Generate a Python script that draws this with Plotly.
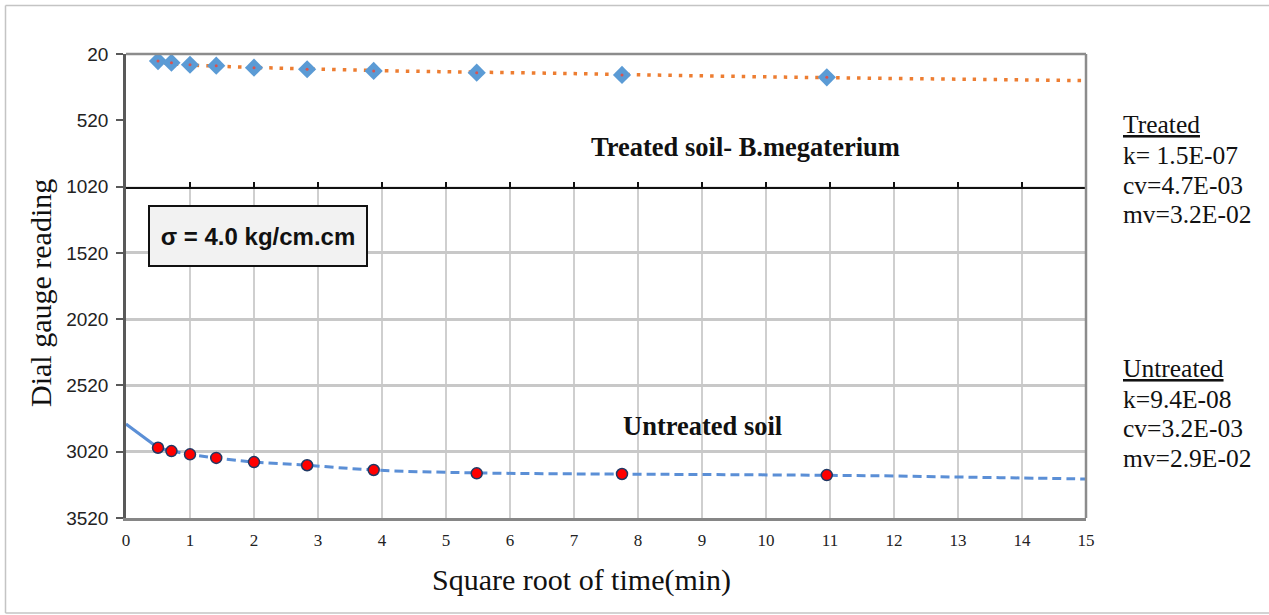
import plotly.graph_objects as go

# ---------------- data ----------------
sqrt_time = [0.5, 0.71, 1.0, 1.41, 2.0, 2.83, 3.87, 5.48, 7.75, 10.95]
treated_reading = [73, 86, 101, 108, 123, 135, 148, 161, 178, 196]
untreated_reading = [2990, 3015, 3040, 3067, 3098, 3122, 3158, 3183, 3188, 3196]

treated_trend_x = [0.6, 0.81, 1.67, 2.5, 4.23, 4.9, 6.78, 8.77, 10.53, 11.36, 13.23, 15]
treated_trend_y = [90, 98, 116, 128, 148, 153, 166, 183, 196, 201, 211, 221]

untreated_start_x = [0, 0.5]
untreated_start_y = [2811, 2990]
untreated_trend_x = [0.5, 0.71, 1.0, 1.41, 2.0, 2.83, 3.87, 5.48, 7.75, 9, 10.95, 12, 13, 14, 15]
untreated_trend_y = [2990, 3015, 3040, 3067, 3098, 3122, 3158, 3180, 3189, 3192, 3198, 3203, 3211, 3218, 3226]

y_ticks = [20, 520, 1020, 1520, 2020, 2520, 3020, 3520]
x_ticks = list(range(0, 16))

treated_params = ["k= 1.5E-07", "cv=4.7E-03", "mv=3.2E-02"]
untreated_params = ["k=9.4E-08", "cv=3.2E-03", "mv=2.9E-02"]

# ---------------- layout geometry ----------------
W, H = 1269, 615
L, R, T, B = 126, 1086, 54, 518


def px(xp):
    return (xp - L) / (R - L)


def py(yp):
    return (B - yp) / (B - T)


SERIF = "Liberation Serif"
SANS = "Liberation Sans"

fig = go.Figure()

# Untreated soil
fig.add_trace(go.Scatter(x=untreated_start_x, y=untreated_start_y, mode="lines",
                         line=dict(color="#5b8fd6", width=3), showlegend=False, hoverinfo="skip"))
fig.add_trace(go.Scatter(x=untreated_trend_x, y=untreated_trend_y, mode="lines",
                         line=dict(color="#5b8fd6", width=3, dash="9px,5px", shape="spline"),
                         showlegend=False, hoverinfo="skip"))
fig.add_trace(go.Scatter(x=sqrt_time, y=untreated_reading, mode="markers",
                         marker=dict(symbol="circle", size=11, color="#ff0000",
                                     line=dict(color="#1f3864", width=1.5)),
                         showlegend=False))

# Treated soil (upper panel axes)
fig.add_trace(go.Scatter(x=treated_trend_x, y=treated_trend_y, mode="lines", xaxis="x2", yaxis="y2",
                         line=dict(color="#ed7d31", width=3.5, dash="3.5px,7px", shape="spline"),
                         showlegend=False, hoverinfo="skip"))
fig.add_trace(go.Scatter(x=sqrt_time, y=treated_reading, mode="markers", xaxis="x2", yaxis="y2",
                         marker=dict(symbol="diamond", size=14, color="#5b9bd5",
                                     line=dict(width=0)),
                         showlegend=False))
fig.add_trace(go.Scatter(x=sqrt_time, y=treated_reading, mode="markers", xaxis="x2", yaxis="y2",
                         marker=dict(symbol="circle", size=3, color="#d9534f"),
                         showlegend=False, hoverinfo="skip"))

y2_bottom = py(T + (1020 - 20) * (B - T) / 3500)

border = dict(color="#c4c4c4", width=1.5)

fig.update_layout(
    width=W, height=H, autosize=False,
    margin=dict(l=L, r=W - R, t=T, b=H - B, pad=0),
    paper_bgcolor="white", plot_bgcolor="white",
    xaxis=dict(range=[0, 15], tickvals=x_ticks, showgrid=True, gridcolor="#cfcfcf", gridwidth=2,
               zeroline=False, showline=True, linecolor="#868686", linewidth=2.5, ticks="",
               ticklabelstandoff=5,
               tickfont=dict(family=SERIF, size=17, color="#222222")),
    yaxis=dict(range=[3520, 20], tickvals=y_ticks, showgrid=True, gridcolor="#c8c8c8", gridwidth=3,
               zeroline=False, showline=True, linecolor="#595959", linewidth=2.5,
               ticks="outside", ticklen=7, tickwidth=1.5, tickcolor="#595959",
               ticklabelstandoff=4,
               tickfont=dict(family=SANS, size=19, color="#222222")),
    xaxis2=dict(range=[0, 15], tickvals=x_ticks, overlaying="x", anchor="y2", showgrid=False,
                zeroline=False, showline=True, linecolor="#111111", linewidth=1.5,
                ticks="inside", ticklen=5, tickwidth=1.5, tickcolor="#111111",
                showticklabels=False),
    yaxis2=dict(range=[1020, 20], domain=[y2_bottom, 1], visible=False, showgrid=False,
                zeroline=False),
    shapes=[
        # plot frame (top and right sides, lighter gray)
        dict(type="line", xref="x domain", yref="y domain", x0=0, x1=1, y0=1, y1=1,
             line=dict(color="#8c8c8c", width=2.5)),
        dict(type="line", xref="x domain", yref="y domain", x0=1, x1=1, y0=0, y1=1,
             line=dict(color="#8c8c8c", width=2.5)),
        # outer chart border (left, top, bottom)
        dict(type="line", xref="paper", yref="paper", x0=px(5.5), x1=px(5.5), y0=py(613),
             y1=py(5.5), line=border, layer="below"),
        dict(type="line", xref="paper", yref="paper", x0=px(5.5), x1=px(1269), y0=py(5.5),
             y1=py(5.5), line=border, layer="below"),
        dict(type="line", xref="paper", yref="paper", x0=px(5.5), x1=px(1269), y0=py(613),
             y1=py(613), line=border, layer="below"),
    ],
)

annotations = [
    dict(text="Square root of time(min)", x=px(581), y=py(580), font=dict(family=SERIF, size=30,
                                                                          color="#111111")),
    dict(text="Dial gauge reading", x=px(40), y=py(293), textangle=-90,
         font=dict(family=SERIF, size=30, color="#111111")),
    dict(text="<b>Treated soil- B.megaterium</b>", x=px(745), y=py(147),
         font=dict(family=SERIF, size=26.5, color="#111111")),
    dict(text="<b>Untreated soil</b>", x=px(702), y=py(426),
         font=dict(family=SERIF, size=26.5, color="#111111")),
    dict(text="<b>σ = 4.0 kg/cm.cm</b>", x=px(258), y=py(236), width=216, height=58,
         bgcolor="#f2f2f2", bordercolor="#111111", borderwidth=2, borderpad=0,
         font=dict(family=SANS, size=24, color="#111111")),
]

right_x = px(1121)
annotations.append(dict(text="<u>Treated</u>", x=right_x, y=py(124), xanchor="left",
                        font=dict(family=SERIF, size=25.5, color="#111111")))
for i, t in enumerate(treated_params):
    annotations.append(dict(text=t, x=right_x, y=py(155 + 30 * i), xanchor="left",
                            font=dict(family=SERIF, size=25.5, color="#111111")))
annotations.append(dict(text="<u>Untreated</u>", x=right_x, y=py(368), xanchor="left",
                        font=dict(family=SERIF, size=25.5, color="#111111")))
for i, t in enumerate(untreated_params):
    annotations.append(dict(text=t, x=right_x, y=py(399 + 29.5 * i), xanchor="left",
                            font=dict(family=SERIF, size=25.5, color="#111111")))

for a in annotations:
    a.setdefault("xref", "paper")
    a.setdefault("yref", "paper")
    a.setdefault("showarrow", False)
    a.setdefault("xanchor", "center")
    a.setdefault("yanchor", "middle")
fig.update_layout(annotations=annotations)

fig.write_html("out.html", config={"displayModeBar": False},
               post_script="document.body.style.margin='0';document.body.style.overflow='hidden';")
